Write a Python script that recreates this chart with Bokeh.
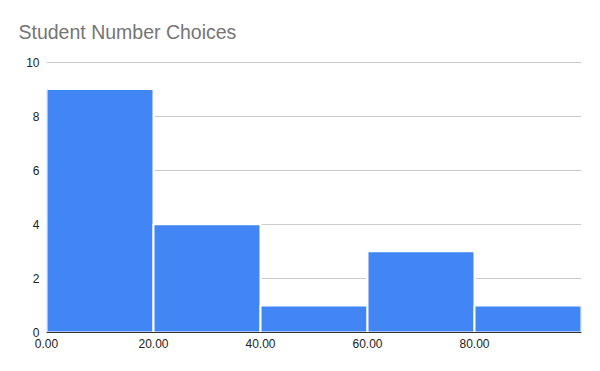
from bokeh.plotting import figure
from bokeh.models import Range1d, FixedTicker, CustomJSTickFormatter
from bokeh.embed import file_html
from bokeh.resources import INLINE

bin_left = [0, 20, 40, 60, 80]
bin_right = [20, 40, 60, 80, 100]
counts = [9, 4, 1, 3, 1]
x_ticks = [0, 20, 40, 60, 80]
y_ticks = [0, 2, 4, 6, 8, 10]
title_text = "Student Number Choices"

p = figure(width=584, height=355, output_backend="svg", toolbar_location=None,
           x_range=Range1d(0, 100), y_range=Range1d(0, 10.02),
           min_border_left=46, min_border_right=3, min_border_top=61, min_border_bottom=23,
           title=title_text)
p.outline_line_color = None
p.background_fill_color = "white"

p.title.text_font = "Liberation Sans"
p.title.text_font_size = "19.5px"
p.title.text_font_style = "normal"
p.title.text_color = "#757575"
p.title.offset = -28
p.title.standoff = 37

p.quad(left=bin_left, right=bin_right, bottom=0, top=counts,
       fill_color="#4285F4", line_color="white", line_width=2)

p.xgrid.grid_line_color = None
p.ygrid.grid_line_color = "#cccccc"
p.ygrid.ticker = FixedTicker(ticks=y_ticks)

p.xaxis.ticker = FixedTicker(ticks=x_ticks)
p.xaxis.formatter = CustomJSTickFormatter(code="return tick.toFixed(2);")
p.xaxis.axis_line_color = "#333333"
p.xaxis.axis_line_width = 1
p.xaxis.major_tick_line_color = None
p.xaxis.minor_tick_line_color = None
p.xaxis.major_tick_out = 0
p.xaxis.major_tick_in = 0
p.xaxis.major_label_text_font = "Liberation Sans"
p.xaxis.major_label_text_font_size = "12px"
p.xaxis.major_label_text_color = "#222222"
p.xaxis.major_label_standoff = 6

p.yaxis.ticker = FixedTicker(ticks=y_ticks)
p.yaxis.axis_line_color = None
p.yaxis.major_tick_line_color = None
p.yaxis.minor_tick_line_color = None
p.yaxis.major_tick_out = 0
p.yaxis.major_tick_in = 0
p.yaxis.major_label_text_font = "Liberation Sans"
p.yaxis.major_label_text_font_size = "12px"
p.yaxis.major_label_text_color = "#222222"
p.yaxis.major_label_standoff = 7

open("out.html", "w").write(file_html(p, INLINE))
